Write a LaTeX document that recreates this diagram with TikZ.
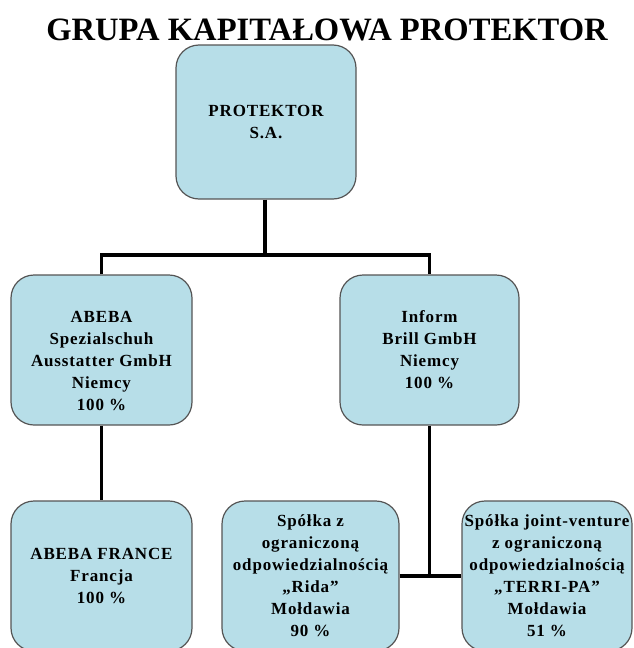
\documentclass[tikz,border=0pt]{standalone}
\usepackage{fontspec}
\setmainfont{Liberation Serif}
\newfontfamily\boxfont{Liberation Serif}[LetterSpace=5]
\definecolor{boxfill}{HTML}{B7DEE8}
\definecolor{boxline}{HTML}{555555}
\tikzset{
  orgbox/.style={draw=boxline, fill=boxfill, line width=1.2pt, rounded corners=23pt,
    align=center, inner sep=0pt, font=\boxfont\bfseries\fontsize{17}{22}\selectfont},
  link/.style={draw=black, line width=3.6pt, line join=miter}
}
\begin{document}
\begin{tikzpicture}[x=1pt,y=-1pt]
\clip (0,0) rectangle (634,648);
\path[use as bounding box] (0,0) rectangle (634,648);
\node[anchor=base, font=\bfseries\fontsize{32.6}{36}\selectfont] (title) at (327,40) {GRUPA KAPITAŁOWA PROTEKTOR};
\node[orgbox, minimum width=180pt, minimum height=154pt] (top) at (266,122) {PROTEKTOR\\S.A.};
\node[orgbox, minimum width=181pt, minimum height=150pt] (abeba) at (101.5,350) {\rule{0pt}{34pt}ABEBA\\Spezialschuh\\Ausstatter GmbH\\Niemcy\\100 \%};
\node[orgbox, minimum width=179pt, minimum height=150pt] (inform) at (429.5,350) {Inform\\Brill GmbH\\Niemcy\\100 \%};
\node[orgbox, minimum width=181pt, minimum height=150pt] (france) at (101.5,576) {ABEBA FRANCE\\Francja\\100 \%};
\node[orgbox, minimum width=177pt, minimum height=150pt] (rida) at (310.5,576) {Spółka z\\ograniczoną\\odpowiedzialnością\\„Rida”\\Mołdawia\\90 \%};
\node[orgbox, minimum width=170pt, minimum height=150pt] (terri) at (547,576) {Spółka joint-venture\\z ograniczoną\\odpowiedzialnością\\„TERRI-PA”\\Mołdawia\\51 \%};
\coordinate (j) at (265,255);
\coordinate (k) at (inform.south |- rida.east);
\draw[link] (top.south -| j) -- (j);
\draw[link] (abeba.north) |- (j) -| (inform.north);
\draw[link] (abeba.south) -- (france.north);
\draw[link] (inform.south) -- (k);
\draw[link] (rida.east) -- (terri.west);
\end{tikzpicture}
\end{document}
